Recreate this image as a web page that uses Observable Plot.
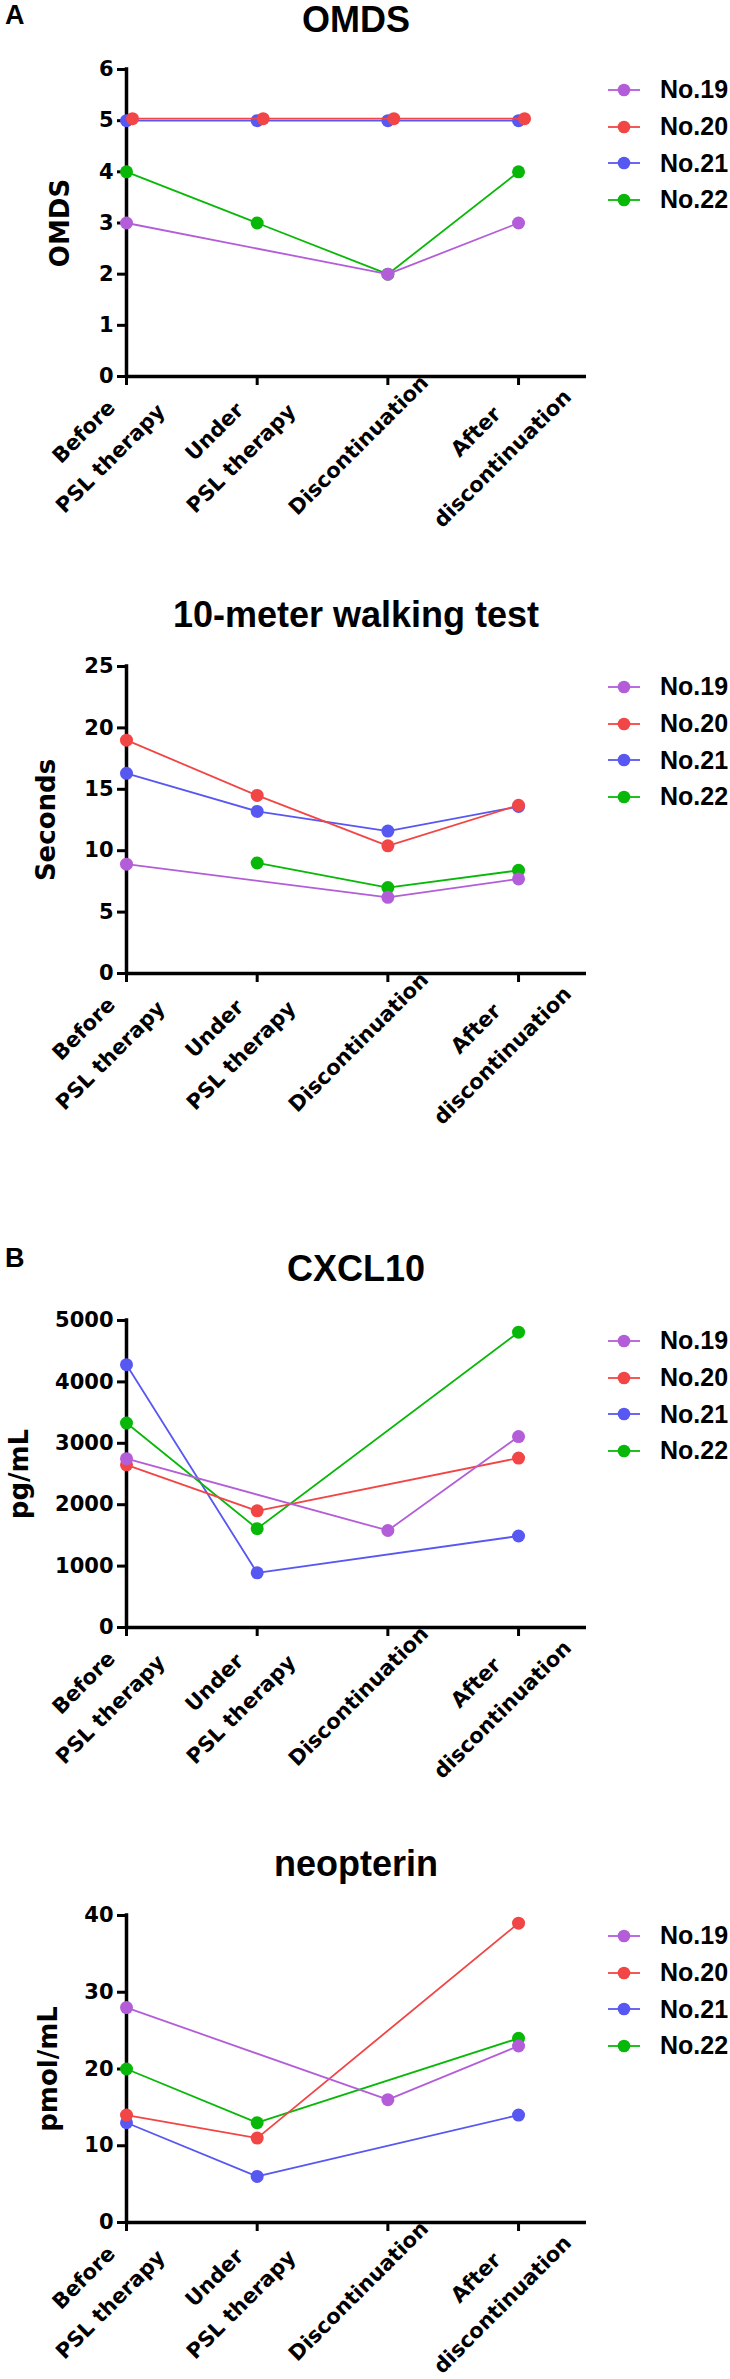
<!DOCTYPE html>
<html>
<head>
<meta charset="utf-8">
<script src="https://cdn.jsdelivr.net/npm/d3@7"></script>
<script src="https://cdn.jsdelivr.net/npm/@observablehq/plot@0.6"></script>
<style>
  html, body { margin: 0; padding: 0; background: #fff; color: #000; }
  #page { position: relative; width: 730px; height: 2379px; overflow: hidden; background: #fff; }
  .abs { position: absolute; }
  .title { font-family: "Liberation Sans", Arial, sans-serif; font-weight: bold; font-size: 36px; line-height: 30px; white-space: nowrap; transform: translateX(-50%); }
  .letter { font-family: "Liberation Sans", Arial, sans-serif; font-weight: bold; font-size: 27px; line-height: 27px; }
  .legend { font-family: "Liberation Sans", Arial, sans-serif; font-weight: bold; font-size: 25px; line-height: 25px; }
  .legend .row { display: flex; align-items: center; height: 36.6px; white-space: nowrap; }
  .legend svg { display: block; margin-right: 18px; }
</style>
</head>
<body>
<div id="page"></div>
<script>
// ---------- data ----------
const timepoints = ["Before\nPSL therapy", "Under\nPSL therapy", "Discontinuation", "After\ndiscontinuation"];
const patients = ["No.19", "No.20", "No.21", "No.22"];
const patientColors = ["#b35ed8", "#f24545", "#5757f2", "#08b808"];

// OMDS
const omdsNo19 = [3, null, 2, 3];
const omdsNo20 = [5, 5, 5, 5];
const omdsNo21 = [5, 5, 5, 5];
const omdsNo22 = [4, 3, 2, 4];
const omdsTicks = [0, 1, 2, 3, 4, 5, 6];

// 10-meter walking test (seconds)
const walkNo19 = [8.9, null, 6.2, 7.7];
const walkNo20 = [19.0, 14.5, 10.4, 13.7];
const walkNo21 = [16.3, 13.2, 11.6, 13.6];
const walkNo22 = [null, 9.0, 7.0, 8.4];
const walkTicks = [0, 5, 10, 15, 20, 25];

// CXCL10 (pg/mL)
const cxclNo19 = [2750, null, 1580, 3110];
const cxclNo20 = [2650, 1900, null, 2760];
const cxclNo21 = [4280, 890, null, 1490];
const cxclNo22 = [3330, 1610, null, 4810];
const cxclTicks = [0, 1000, 2000, 3000, 4000, 5000];

// neopterin (pmol/mL)
const neoNo19 = [28, null, 16, 23];
const neoNo20 = [14, 11, null, 39];
const neoNo21 = [13, 6, null, 14];
const neoNo22 = [20, 13, null, 24];
const neoTicks = [0, 10, 20, 30, 40];

// ---------- layout ----------
const AX_FONT = "'DejaVu Sans', Verdana, sans-serif";
const PLOT_H = 307;
const M_TOP = 20, M_BOTTOM = 215, M_LEFT = 126, M_RIGHT = 144;
const drawOrder = [2, 3, 1, 0];

const panels = [
  {letter: "A", letterTop: 2, title: "OMDS", yLabel: "OMDS", series: [omdsNo19, omdsNo20, omdsNo21, omdsNo22], ticks: omdsTicks, top: 69, labelOffset: 76, nudge: {1: [6, -2]}},
  {title: "10-meter walking test", yLabel: "Seconds", series: [walkNo19, walkNo20, walkNo21, walkNo22], ticks: walkTicks, top: 666, labelOffset: 90, nudge: {}},
  {letter: "B", letterTop: 1245, title: "CXCL10", yLabel: "pg/mL", series: [cxclNo19, cxclNo20, cxclNo21, cxclNo22], ticks: cxclTicks, top: 1320, labelOffset: 117, nudge: {}},
  {title: "neopterin", yLabel: "pmol/mL", series: [neoNo19, neoNo20, neoNo21, neoNo22], ticks: neoTicks, top: 1915, labelOffset: 88, nudge: {}}
];

const page = document.getElementById("page");

function el(tag, cls, style, text) {
  const e = document.createElement(tag);
  if (cls) e.className = cls;
  Object.assign(e.style, style);
  if (text != null) e.textContent = text;
  return e;
}

for (const p of panels) {
  const rows = (s) => p.series[s].map((v, i) => ({patient: patients[s], i, v})).filter(d => d.v != null);

  const marks = [];
  marks.push(Plot.ruleY([0], {strokeWidth: 3.5, stroke: "#000"}));
  marks.push(Plot.ruleX([0], {strokeWidth: 3.5, stroke: "#000", strokeLinecap: "square"}));
  marks.push(Plot.axisY(p.ticks, {tickSize: 9, tickPadding: 4, strokeWidth: 3, stroke: "#000", fill: "#000",
    fontSize: 21, fontWeight: "bold", fontFamily: AX_FONT, label: null, tickFormat: d => String(d)}));
  marks.push(Plot.axisX(timepoints.map((t, i) => i), {tickSize: 9, strokeWidth: 3, stroke: "#000", tickFormat: () => "", label: null}));
  // x tick labels (rotated, multi-line centred)
  marks.push(Plot.text(timepoints, {x: (d, i) => i, frameAnchor: "bottom", text: d => d, rotate: -45,
    textAnchor: "middle", lineAnchor: "middle", lineHeight: 1.8, dx: -33, dy: 65,
    fontSize: 21, fontWeight: "bold", fontFamily: AX_FONT, fill: "#000"}));
  // y axis label
  marks.push(Plot.text([p.yLabel], {frameAnchor: "left", rotate: -90, dx: -p.labelOffset, lineAnchor: "top",
    textAnchor: "middle", fontSize: 26, fontWeight: "bold", fontFamily: AX_FONT, fill: "#000"}));
  for (const s of drawOrder) {
    const [ndx, ndy] = p.nudge[s] || [0, 0];
    const data = rows(s);
    marks.push(Plot.line(data, {x: "i", y: "v", stroke: patientColors[s], strokeWidth: 1.8, dx: ndx, dy: ndy}));
    marks.push(Plot.dot(data, {x: "i", y: "v", fill: patientColors[s], r: 6.5, stroke: "none", dx: ndx, dy: ndy}));
  }

  const chart = Plot.plot({
    width: 730,
    height: M_TOP + PLOT_H + M_BOTTOM,
    marginTop: M_TOP, marginBottom: M_BOTTOM, marginLeft: M_LEFT, marginRight: M_RIGHT,
    x: {type: "linear", domain: [0, 3.52]},
    y: {type: "linear", domain: [0, p.ticks[p.ticks.length - 1]]},
    style: {background: "transparent", overflow: "visible", color: "#000"},
    marks
  });
  chart.style.position = "absolute";
  chart.style.left = "0px";
  chart.style.top = (p.top - M_TOP) + "px";
  page.appendChild(chart);

  // title: baseline ~38px above the top tick (kept inside the page); line-height 30px -> baseline = top + 27.6
  const baseline = Math.max(p.top - 38, 33);
  page.appendChild(el("div", "abs title", {left: "356px", top: (baseline - 27.6) + "px"}, p.title));
  if (p.letter) page.appendChild(el("div", "abs letter", {left: "5px", top: p.letterTop + "px"}, p.letter));

  // legend
  const leg = el("div", "abs legend", {left: "606px", top: (p.top + 21 - 18.3) + "px"});
  patients.forEach((name, s) => {
    const row = el("div", "row", {});
    const ns = "http://www.w3.org/2000/svg";
    const sw = document.createElementNS(ns, "svg");
    sw.setAttribute("width", 36); sw.setAttribute("height", 14);
    const ln = document.createElementNS(ns, "line");
    ln.setAttribute("x1", 2); ln.setAttribute("x2", 34); ln.setAttribute("y1", 7); ln.setAttribute("y2", 7);
    ln.setAttribute("stroke", patientColors[s]); ln.setAttribute("stroke-width", 1.8);
    const c = document.createElementNS(ns, "circle");
    c.setAttribute("cx", 18); c.setAttribute("cy", 7); c.setAttribute("r", 6.3); c.setAttribute("fill", patientColors[s]);
    sw.appendChild(ln); sw.appendChild(c);
    row.appendChild(sw);
    row.appendChild(el("span", "", {}, name));
    leg.appendChild(row);
  });
  page.appendChild(leg);
}
</script>
</body>
</html>
